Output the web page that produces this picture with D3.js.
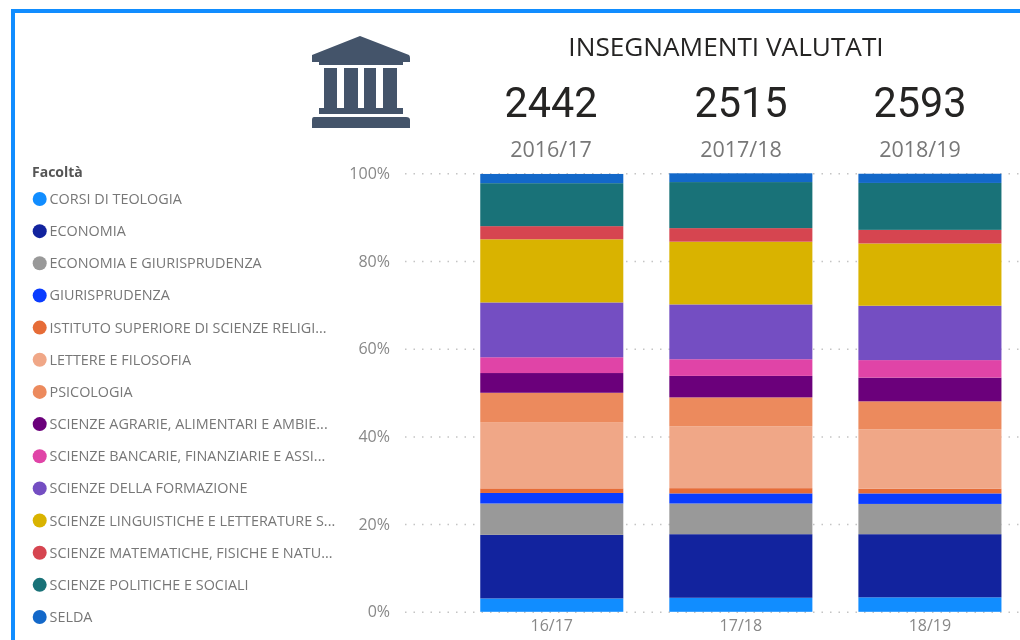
<!DOCTYPE html>
<html><head><meta charset="utf-8">
<script src="https://cdn.jsdelivr.net/npm/d3@7/dist/d3.min.js"></script>
<style>
html,body{margin:0;padding:0;background:#fff;overflow:hidden}
svg{display:block;font-family:"Open Sans",sans-serif;filter:blur(0.45px)}
</style></head><body>
<svg id="c" width="1020" height="640"></svg>
<script>
const chartTitle = "INSEGNAMENTI VALUTATI";
const legendTitle = "Facoltà";
const years = ["16/17","17/18","18/19"];
const yearLabels = ["2016/17","2017/18","2018/19"];
const totals = ["2442","2515","2593"];
const faculties = ["CORSI DI TEOLOGIA","ECONOMIA","ECONOMIA E GIURISPRUDENZA","GIURISPRUDENZA","ISTITUTO SUPERIORE DI SCIENZE RELIGI...","LETTERE E FILOSOFIA","PSICOLOGIA","SCIENZE AGRARIE, ALIMENTARI E AMBIE...","SCIENZE BANCARIE, FINANZIARIE E ASSI...","SCIENZE DELLA FORMAZIONE","SCIENZE LINGUISTICHE E LETTERATURE S...","SCIENZE MATEMATICHE, FISICHE E NATU...","SCIENZE POLITICHE E SOCIALI","SELDA"];
const colors = ["#118DFF","#12239E","#999999","#0A3CFF","#E66C37","#F0A787","#EC8A5D","#6B007B","#E044A7","#744EC2","#D9B300","#D64550","#197278","#1368C9"];
const share1617 = [3.05,14.5,7.15,2.4,1.05,15.0,6.8,4.5,3.6,12.5,14.4,3.0,9.8,2.1];
const share1718 = [3.2,14.5,7.0,2.3,1.2,14.1,6.6,4.9,3.8,12.5,14.3,3.1,10.5,2.0];
const share1819 = [3.3,14.4,6.9,2.4,1.1,13.5,6.4,5.4,4.0,12.4,14.2,3.1,10.7,2.1];
const yTicks = [0,20,40,60,80,100];

const svg = d3.select("#c");
const rows = years.map((y,i)=>{
  const src=[share1617,share1718,share1819][i], r={year:y};
  faculties.forEach((f,j)=>r[f]=src[j]);
  return r;
});
const y = d3.scaleLinear().domain([0,100]).range([611.8,173.3]);
const x = d3.scaleBand().domain(years).range([405,1076.7]).paddingInner(46/189).paddingOuter(0.398);

// frame
svg.append("path").attr("d","M13,640V11H1020").attr("fill","none").attr("stroke","#118DFF").attr("stroke-width",4);

// gridlines + y axis
const yAxis = svg.append("g").attr("transform","translate(405,0)")
  .call(d3.axisLeft(y).tickValues(yTicks).tickFormat(d=>d+"%").tickSize(-615).tickPadding(15));
yAxis.select(".domain").remove();
yAxis.selectAll(".tick line").attr("stroke","#c4c4c4").attr("stroke-width",1.5).attr("stroke-dasharray","1.5,7");
yAxis.selectAll(".tick text").attr("fill","#888").attr("font-size",16).attr("font-family","'Open Sans',sans-serif");

// x axis
const xAxis = svg.append("g").attr("transform","translate(0,611.8)")
  .call(d3.axisBottom(x).tickSize(0).tickPadding(8));
xAxis.select(".domain").remove();
xAxis.selectAll(".tick text").attr("fill","#888").attr("font-size",16).attr("font-family","'Open Sans',sans-serif");

// stacked bars
const stack = d3.stack().keys(faculties)(rows);
svg.append("g").selectAll("g").data(stack).join("g").attr("fill",(d,i)=>colors[i])
  .selectAll("rect").data(d=>d).join("rect")
  .attr("x",d=>x(d.data.year)).attr("width",x.bandwidth())
  .attr("y",d=>y(d[1])).attr("height",d=>y(d[0])-y(d[1]));

// legend
svg.append("text").attr("x",32).attr("y",177).attr("font-size",14).attr("font-weight",700).attr("fill","#555").text(legendTitle);
const ly = d3.scalePoint().domain(faculties).range([199,617]);
const lg = svg.append("g").selectAll("g").data(faculties).join("g").attr("transform",d=>`translate(0,${ly(d)})`);
lg.append("circle").attr("cx",39.7).attr("r",7).attr("fill",(d,i)=>colors[i]);
lg.append("text").attr("x",49.5).attr("y",5).attr("font-size",14.4).attr("fill","#777").text(d=>d);

// header
svg.append("text").attr("x",726).attr("y",56).attr("text-anchor","middle").attr("font-size",26.2).attr("fill","#252423").text(chartTitle);
const centers=[551,741,920];
svg.append("g").selectAll("text").data(totals).join("text")
  .attr("x",(d,i)=>centers[i]).attr("y",117).attr("text-anchor","middle")
  .attr("font-family","Roboto,sans-serif").attr("font-size",43).attr("fill","#252423")
  .attr("textLength",93).attr("lengthAdjust","spacingAndGlyphs").text(d=>d);
svg.append("g").selectAll("text").data(yearLabels).join("text")
  .attr("x",(d,i)=>centers[i]).attr("y",157).attr("text-anchor","middle")
  .attr("font-size",21.5).attr("fill","#777").text(d=>d);

// institution icon
svg.append("path").attr("fill","#44546A").attr("d",
 "M360,36 L409,55 Q410,56 410,58 L410,62 L403,62 L403,65 L319,65 L319,62 L312,62 L312,55 Z"
 +"M324,68 H337 V108 H324 Z M344,68 H358 V108 H344 Z M364,68 H376 V108 H364 Z M383,68 H397 V108 H383 Z"
 +"M319,108 H403 V114 H319 Z M314,117 H406 Q410,117 410,120 V128 H312 V120 Q312,117 314,117 Z");
</script>
</body></html>
